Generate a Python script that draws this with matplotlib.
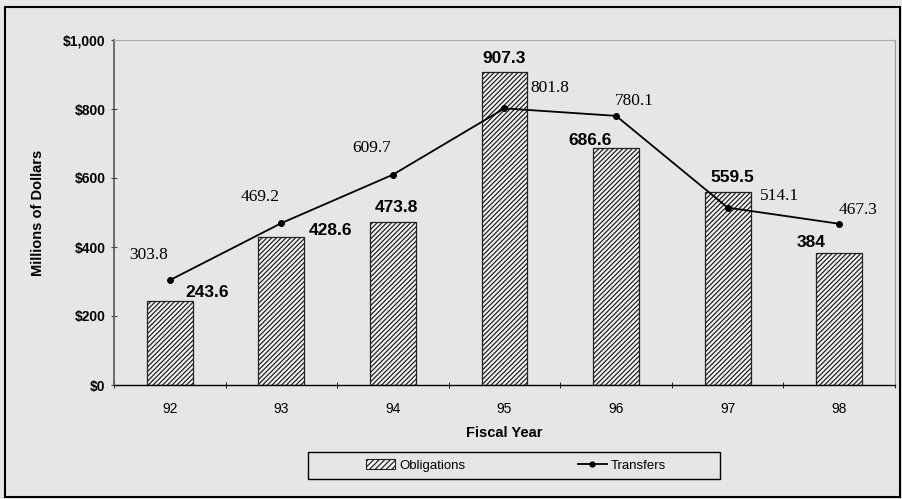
import matplotlib
matplotlib.use("Agg")
import matplotlib.pyplot as plt
import numpy as np
from matplotlib.patches import Rectangle
from matplotlib.lines import Line2D
from matplotlib.patches import Patch

years = ["92", "93", "94", "95", "96", "97", "98"]
obligations = [243.6, 428.6, 473.8, 907.3, 686.6, 559.5, 384]
transfers = [303.8, 469.2, 609.7, 801.8, 780.1, 514.1, 467.3]
obl_labels = ["243.6", "428.6", "473.8", "907.3", "686.6", "559.5", "384"]
trf_labels = ["303.8", "469.2", "609.7", "801.8", "780.1", "514.1", "467.3"]
yticks = [0, 200, 400, 600, 800, 1000]
ytick_labels = ["$0", "$200", "$400", "$600", "$800", "$1,000"]

bg = "#e7e6e4"
plt.rcParams['hatch.linewidth'] = 0.9
fig = plt.figure(figsize=(9.03, 4.99), dpi=100, facecolor=bg)
ax = fig.add_axes([114/903, 1-385/499, (895-114)/903, 345/499], facecolor=bg)

x = np.arange(len(years))
HATCH = "///////"
ax.bar(x, obligations, width=0.41, facecolor="#f4f4f2", edgecolor="#222222",
       hatch=HATCH, linewidth=0.9, zorder=2)
ax.plot(x, transfers, color="black", linewidth=1.3, marker="o", markersize=4,
        zorder=3)

sans = ["Liberation Sans", "DejaVu Sans"]
serif = ["Liberation Serif", "DejaVu Serif"]

obl_off = [(37, 8), (49, 7), (4, 14), (0, 13), (-26, 8), (5, 14), (-28, 10)]
trf_off = [(-21, 25), (-21, 26), (-21, 27), (45, 20), (18, 15), (52, 12), (19, 14)]
for i in range(len(years)):
    ax.annotate(obl_labels[i], (x[i], obligations[i]), xytext=obl_off[i],
                textcoords="offset pixels", ha="center", va="center",
                fontsize=12.5, fontweight="bold", family=sans, zorder=5)
    ax.annotate(trf_labels[i], (x[i], transfers[i]), xytext=trf_off[i],
                textcoords="offset pixels", ha="center", va="center",
                fontsize=12.5, family=serif, zorder=5)

ax.set_xlim(-0.5, len(years) - 0.5)
ax.set_ylim(0, 1000)
ax.set_yticks(yticks)
ax.set_yticklabels(ytick_labels, fontsize=10, fontweight="bold", family=sans)
ax.set_xticks(x)
ax.set_xticklabels(years, fontsize=10, family=sans)
ax.set_xticks(np.arange(len(years) + 1) - 0.5, minor=True)
ax.tick_params(axis="x", which="major", length=0, pad=12)
ax.tick_params(axis="x", which="minor", length=5, direction="inout", color="black")
ax.tick_params(axis="y", length=4, direction="inout", color="#444444", pad=4)

ax.spines["left"].set_color("#555555")
ax.spines["left"].set_linewidth(1.2)
ax.spines["bottom"].set_color("black")
ax.spines["bottom"].set_linewidth(1.0)
ax.spines["top"].set_color("#aaaaaa")
ax.spines["right"].set_color("#999999")

ax.set_ylabel("Millions of Dollars", fontsize=10.5, fontweight="bold", family=sans)
ax.yaxis.set_label_coords((45 - 114) / (895 - 114), 0.5)
ax.set_xlabel("Fiscal Year", fontsize=10.5, fontweight="bold", family=sans)
ax.xaxis.set_label_coords(0.5, -(426 - 385) / 345)

# legend frame
fig.patches.append(Rectangle((308/903, 1-479/499), (720-308)/903, 27/499,
                             transform=fig.transFigure, facecolor=bg,
                             edgecolor="black", linewidth=1.0, zorder=1))
handles = [Patch(facecolor="#f4f4f2", edgecolor="#222222", hatch="//////", linewidth=0.8),
           Line2D([], [], color="black", marker="o", markersize=3.5, linewidth=1.3)]
leg = fig.legend(handles, ["Obligations", "Transfers"], ncol=2,
                 loc="center", bbox_to_anchor=(516/903, 1-465.5/499),
                 frameon=False, prop={"family": sans, "size": 9.5},
                 handlelength=2.2, handletextpad=0.3, columnspacing=8.5)

fig.patches.append(Rectangle((5/903, 0.005), 895/903, 1 - 7/499 - 0.005,
                             transform=fig.transFigure, fill=False,
                             edgecolor="black", linewidth=1.5))

fig.savefig("out.png", dpi=100, facecolor=bg)
